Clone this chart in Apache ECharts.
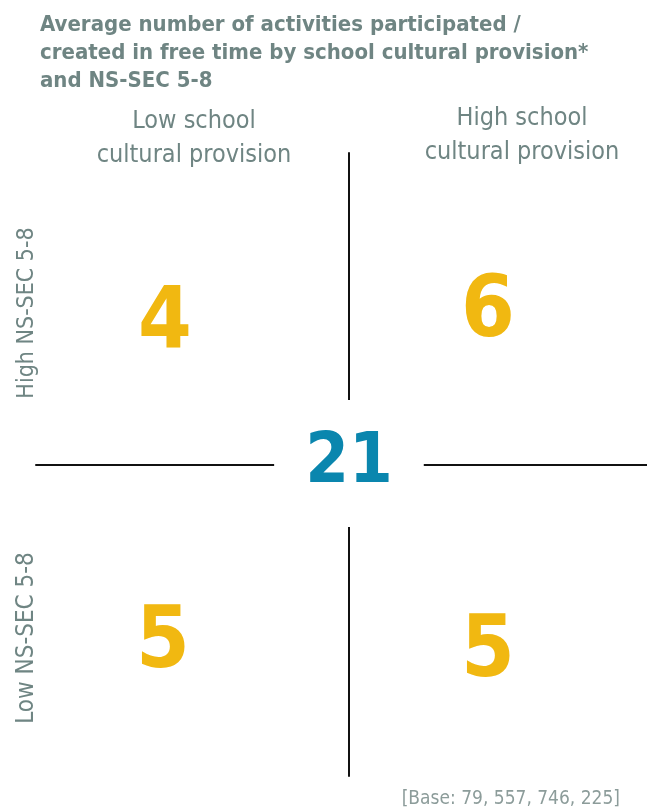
<!DOCTYPE html>
<html>
<head>
<meta charset="utf-8">
<script src="https://cdn.jsdelivr.net/npm/echarts@6/dist/echarts.min.js"></script>
<style>html,body{margin:0;padding:0;background:#fff;}#main{width:647px;height:811px;}</style>
</head>
<body>
<div id="main"></div>
<script>
const titleLines = ['Average number of activities participated /', 'created in free time by school cultural provision*', 'and NS-SEC 5-8'];
const colCategories = ['Low school\ncultural provision', 'High school\ncultural provision'];
const rowCategories = ['High NS-SEC 5-8', 'Low NS-SEC 5-8'];
const highNsSecValues = [4, 6];
const lowNsSecValues = [5, 5];
const centerValue = 21;
const baseSizes = [79, 557, 746, 225];

const FONT = '"Liberation Sans Narrow", "DejaVu Sans Condensed", "Open Sans", sans-serif';
const GREY = '#6f8583';
const YELLOW = '#f1b811';
const BLUE = '#0a86ae';

const rows = [highNsSecValues, lowNsSecValues];
const colX = [-0.5, 0.5];
const rowY = [0.5, -0.5];
// label nudges per quadrant [row][col]
const nudges = [[[-35, 16], [-10, 5]], [[-37, 24], [-10, 33]]];

const quadData = [];
rows.forEach((vals, r) => {
  vals.forEach((v, c) => {
    quadData.push({
      value: [colX[c], rowY[r], v],
      label: { offset: nudges[r][c] }
    });
  });
});

const chart = echarts.init(document.getElementById('main'), null, { renderer: 'canvas' });
chart.setOption({
  backgroundColor: '#fff',
  animation: false,
  title: [
    { text: titleLines.join('\n'), left: 35, top: 6,
      textStyle: { fontFamily: FONT, fontWeight: 'bold', fontSize: 22, lineHeight: 28, color: GREY } },
    { text: colCategories[0], left: 189, top: 99, textAlign: 'center',
      textStyle: { fontFamily: FONT, fontWeight: 'normal', fontSize: 25, lineHeight: 34, color: GREY, align: 'center' } },
    { text: colCategories[1], left: 517, top: 96, textAlign: 'center',
      textStyle: { fontFamily: FONT, fontWeight: 'normal', fontSize: 25, lineHeight: 34, color: GREY, align: 'center' } },
    { text: '[Base: ' + baseSizes.join(', ') + ']', right: 22, top: 785,
      textStyle: { fontFamily: FONT, fontWeight: 'normal', fontSize: 19, color: '#8c9c9a' } }
  ],
  graphic: [
    { type: 'text', rotation: Math.PI / 2, x: 27, y: 313,
      style: { text: rowCategories[0], font: 'normal 23px ' + FONT, fill: GREY, align: 'center', verticalAlign: 'middle' } },
    { type: 'text', rotation: Math.PI / 2, x: 27, y: 638,
      style: { text: rowCategories[1], font: 'normal 24px ' + FONT, fill: GREY, align: 'center', verticalAlign: 'middle' } }
  ],
  grid: { left: 36, right: 0, top: 153, bottom: 35 },
  xAxis: {
    type: 'value', min: -1.05, max: 1,
    axisLine: { show: true, onZero: true, lineStyle: { color: '#111', width: 2 } },
    axisTick: { show: false }, axisLabel: { show: false }, splitLine: { show: false }
  },
  yAxis: {
    type: 'value', min: -1, max: 1,
    axisLine: { show: true, onZero: true, lineStyle: { color: '#111', width: 2 } },
    axisTick: { show: false }, axisLabel: { show: false }, splitLine: { show: false }
  },
  series: [
    {
      type: 'scatter', symbolSize: 0, z: 5,
      itemStyle: { opacity: 1 },
      emphasis: { disabled: true },
      data: quadData,
      label: {
        show: true, position: 'inside', opacity: 1,
        formatter: p => String(p.value[2]),
        fontFamily: FONT, fontWeight: 'bold', fontSize: 86, color: YELLOW
      }
    },
    {
      type: 'scatter', symbolSize: 0, z: 6,
      itemStyle: { opacity: 1 },
      emphasis: { disabled: true },
      data: [[0, 0, centerValue]],
      label: {
        show: true, position: 'inside', opacity: 1,
        formatter: p => String(p.value[2]),
        fontFamily: FONT, fontWeight: 'bold', fontSize: 70, color: BLUE,
        backgroundColor: '#fff', padding: [25, 31, 32, 31], offset: [0, -1]
      }
    }
  ]
});
</script>
</body>
</html>
